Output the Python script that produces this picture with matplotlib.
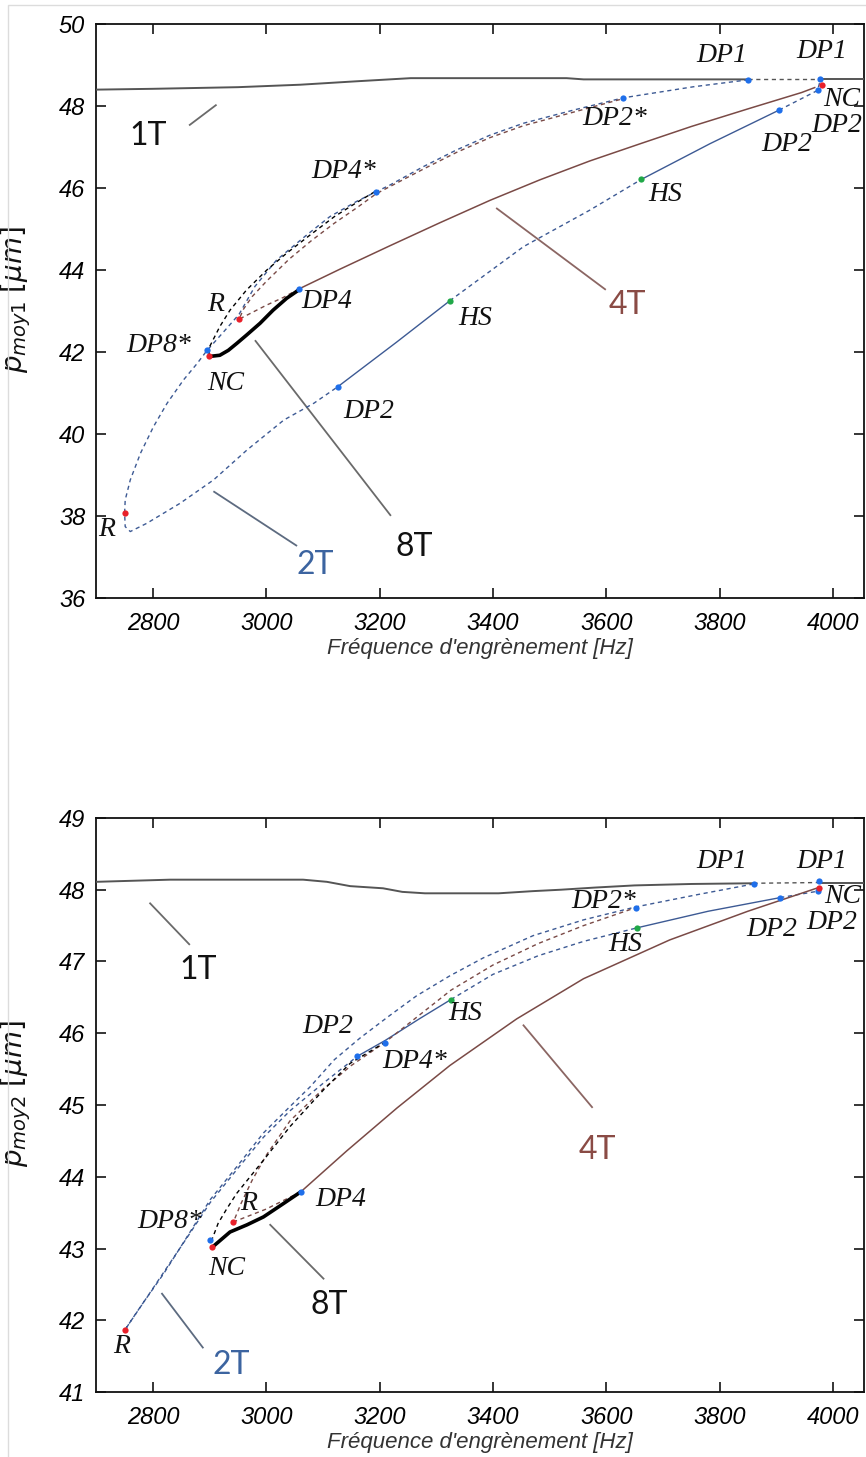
import matplotlib
matplotlib.use("Agg")
import matplotlib.pyplot as plt
from matplotlib.patches import Rectangle

# mathtext in the same narrow italic face as the tick labels
plt.rcParams.update({
    'mathtext.fontset': 'custom',
    'mathtext.it': 'Liberation Sans Narrow:italic',
    'mathtext.rm': 'Liberation Sans Narrow',
    'mathtext.fallback': 'cm',
})

# ---------------------------------------------------------------
# colours
# ---------------------------------------------------------------
C_1T = '#555555'
C_2T = '#3D5A94'
C_4T = '#7A4A46'
C_8T = '#000000'
C_BLUE = '#1F6FEA'
C_RED = '#E8202A'
C_GREEN = '#20A848'
C_LEAD = '#6A6A6A'

TICK_FONT = ['Liberation Sans Narrow', 'Liberation Sans', 'DejaVu Sans']
SERIF = ['Liberation Serif', 'DejaVu Serif']
LABEL_FONT = ['Lato', 'DejaVu Sans']

# ===============================================================
# Top panel : p_moy1
# ===============================================================
# 1T branch
t_f_1t_a = [2700, 2800, 2950, 3060, 3155, 3255, 3530, 3560, 3851]
t_p_1t_a = [48.40, 48.42, 48.46, 48.52, 48.60, 48.68, 48.68, 48.65, 48.65]
t_f_1t_u = [3851, 3978]
t_p_1t_u = [48.65, 48.65]
t_f_1t_b = [3978, 4055]
t_p_1t_b = [48.65, 48.65]

# 2T branch (unstable outer arc: DP1 -> R -> DP2)
t_f_2t_u1 = [3851, 3754, 3630, 3542, 3454, 3395, 3336, 3277, 3218, 3194, 3159,
             3112, 3071, 3018, 2980, 2952, 2924, 2895, 2878, 2854, 2825, 2801,
             2778, 2760, 2751, 2750, 2751, 2760, 2789, 2848, 2907, 2966, 3031,
             3084, 3126]
t_p_2t_u1 = [48.64, 48.47, 48.20, 47.90, 47.58, 47.29, 46.93, 46.52, 46.07, 45.91,
             45.67, 45.30, 44.85, 44.24, 43.60, 42.92, 42.48, 42.03, 41.72, 41.32,
             40.75, 40.18, 39.53, 38.88, 38.39, 38.07, 37.74, 37.62, 37.82, 38.31,
             38.88, 39.61, 40.34, 40.75, 41.15]
t_f_2t_s1 = [3126, 3230, 3324]
t_p_2t_s1 = [41.15, 42.24, 43.25]
t_f_2t_u2 = [3324, 3454, 3571, 3662]
t_p_2t_u2 = [43.25, 44.57, 45.46, 46.21]
t_f_2t_s2 = [3662, 3783, 3905]
t_p_2t_s2 = [46.21, 47.08, 47.90]
t_f_2t_u3 = [3905, 3973, 3978]
t_p_2t_u3 = [47.90, 48.38, 48.64]

# 4T branch
t_f_4t_s = [3058, 3130, 3218, 3306, 3395, 3483, 3571, 3660, 3750, 3850, 3945, 3968]
t_p_4t_s = [43.54, 44.02, 44.59, 45.15, 45.70, 46.20, 46.66, 47.08, 47.50, 47.93,
            48.33, 48.45]
t_f_4t_u = [3058, 3030, 3000, 2952, 2960, 2975, 3000, 3040, 3080, 3120, 3160,
            3194, 3277, 3336, 3395, 3454, 3542, 3630]
t_p_4t_u = [43.54, 43.33, 43.14, 42.80, 43.05, 43.35, 43.72, 44.26, 44.72, 45.14,
            45.52, 45.86, 46.46, 46.87, 47.23, 47.52, 47.85, 48.18]

# 8T branch
t_f_8t_s = [2899, 2918, 2933, 2948, 2965, 2989, 3012, 3036, 3058]
t_p_8t_s = [41.89, 41.92, 42.04, 42.21, 42.41, 42.70, 43.02, 43.31, 43.52]
t_f_8t_u = [2899, 2900, 2918, 2936, 2965, 3001, 3036, 3077, 3120, 3160, 3194]
t_p_8t_u = [41.95, 42.13, 42.62, 43.02, 43.51, 44.00, 44.41, 44.85, 45.30, 45.65,
            45.93]

# bifurcation points
t_blue_f = [3851, 3978, 3973, 3905, 3630, 3194, 3058, 2895, 3126]
t_blue_p = [48.64, 48.65, 48.40, 47.90, 48.20, 45.91, 43.54, 42.05, 41.15]
t_red_f = [3980, 2952, 2899, 2750]
t_red_p = [48.51, 42.80, 41.89, 38.07]
t_green_f = [3662, 3324]
t_green_p = [46.21, 43.25]

t_point_labels = ['DP1', 'DP1', 'NC', 'DP2', 'DP2', 'DP2*', 'HS', 'DP4*', 'R',
                  'DP4', 'DP8*', 'NC', 'DP2', 'HS', 'R']
t_point_lf = [3804, 3980, 4016, 4007, 3918, 3615, 3704, 3136, 2910, 3107, 2810,
              2928, 3181, 3369, 2719]
t_point_lp = [49.24, 49.32, 48.17, 47.52, 47.05, 47.70, 45.83, 46.40, 43.15, 43.23,
              42.17, 41.24, 40.54, 42.82, 37.66]

t_branch_labels = ['1T', '2T', '4T', '8T']
t_branch_lf = [2791, 3086, 3637, 3262]
t_branch_lp = [47.27, 36.80, 43.15, 37.24]
t_lead_f = [(2865, 2911), (2908, 3053), (3407, 3598), (2981, 3219)]
t_lead_p = [(47.54, 48.02), (38.59, 37.28), (45.50, 43.53), (42.27, 38.02)]

# ===============================================================
# Bottom panel : p_moy2
# ===============================================================
b_f_1t_a = [2700, 2830, 3065, 3107, 3148, 3206, 3240, 3280, 3410, 3470, 3520,
            3580, 3650, 3750, 3860]
b_p_1t_a = [48.11, 48.14, 48.14, 48.11, 48.05, 48.02, 47.97, 47.95, 47.95, 47.98,
            48.00, 48.03, 48.06, 48.08, 48.09]
b_f_1t_u = [3860, 3976]
b_p_1t_u = [48.09, 48.10]
b_f_1t_b = [3976, 4055]
b_p_1t_b = [48.10, 48.10]

b_f_2t_u1 = [3860, 3760, 3652, 3560, 3471, 3383, 3324, 3265, 3215, 3165, 3120,
             3077, 3042, 2995, 2948, 2901, 2860, 2819, 2778, 2750, 2780, 2820,
             2860, 2901, 2948, 2995, 3042, 3100, 3161]
b_p_2t_u1 = [48.08, 47.93, 47.76, 47.58, 47.36, 47.05, 46.80, 46.52, 46.23, 45.93,
             45.63, 45.25, 44.98, 44.61, 44.14, 43.68, 43.16, 42.65, 42.19, 41.86,
             42.21, 42.68, 43.15, 43.64, 44.10, 44.55, 44.92, 45.30, 45.68]
b_f_2t_s1 = [3161, 3210, 3270, 3326]
b_p_2t_s1 = [45.68, 45.90, 46.20, 46.47]
b_f_2t_u2 = [3326, 3400, 3480, 3560, 3655]
b_p_2t_u2 = [46.47, 46.82, 47.08, 47.28, 47.47]
b_f_2t_s2 = [3655, 3780, 3907]
b_p_2t_s2 = [47.47, 47.70, 47.89]
b_f_2t_u3 = [3907, 3974, 3976]
b_p_2t_u3 = [47.89, 47.98, 48.11]

b_f_4t_s = [3061, 3142, 3231, 3324, 3442, 3560, 3712, 3850, 3971]
b_p_4t_s = [43.79, 44.36, 44.96, 45.55, 46.20, 46.76, 47.30, 47.70, 48.02]
b_f_4t_u = [3061, 3000, 2942, 2955, 2975, 3000, 3042, 3100, 3150, 3209, 3265,
            3326, 3400, 3480, 3560, 3652]
b_p_4t_u = [43.79, 43.55, 43.37, 43.62, 43.95, 44.30, 44.78, 45.22, 45.55, 45.87,
            46.22, 46.60, 46.95, 47.25, 47.50, 47.75]

b_f_8t_s = [2905, 2936, 2966, 2995, 3031, 3061]
b_p_8t_s = [43.02, 43.23, 43.33, 43.44, 43.63, 43.79]
b_f_8t_u = [2903, 2915, 2930, 2948, 2995, 3042, 3101, 3148, 3209]
b_p_8t_u = [43.10, 43.35, 43.55, 43.77, 44.23, 44.70, 45.21, 45.58, 45.87]

b_blue_f = [3860, 3976, 3974, 3907, 3652, 3161, 3209, 3061, 2901]
b_blue_p = [48.08, 48.12, 47.98, 47.89, 47.75, 45.68, 45.87, 43.79, 43.12]
b_red_f = [3976, 2942, 2905, 2750]
b_red_p = [48.03, 43.37, 43.02, 41.86]
b_green_f = [3655, 3326]
b_green_p = [47.47, 46.47]

b_point_labels = ['DP1', 'DP1', 'NC', 'DP2', 'DP2', 'DP2*', 'HS', 'DP2', 'HS',
                  'DP4*', 'R', 'DP4', 'DP8*', 'NC', 'R']
b_point_lf = [3804, 3980, 4018, 3998, 3892, 3595, 3633, 3109, 3351, 3262, 2969,
              3131, 2830, 2931, 2744]
b_point_lp = [48.39, 48.39, 47.91, 47.55, 47.44, 47.83, 47.23, 46.09, 46.28, 45.60,
              43.63, 43.68, 43.37, 42.72, 41.63]

b_branch_labels = ['1T', '2T', '4T', '8T']
b_branch_lf = [2880, 2939, 3585, 3112]
b_branch_lp = [46.88, 41.37, 44.37, 42.21]
b_lead_f = [(2795, 2864), (2816, 2888), (3454, 3575), (3007, 3101)]
b_lead_p = [(47.81, 47.24), (42.37, 41.62), (46.11, 44.97), (43.33, 42.58)]

x_ticks = [2800, 3000, 3200, 3400, 3600, 3800, 4000]
t_y_ticks = [36, 38, 40, 42, 44, 46, 48, 50]
b_y_ticks = [41, 42, 43, 44, 45, 46, 47, 48, 49]

BRANCH_COLORS = ['#111111', '#3C64A0', '#8A4B45', '#111111']
LEAD_COLORS = [C_LEAD, '#5D6B80', '#8B6663', C_LEAD]

DASH = (0, (3.0, 2.6))


def draw_panel(ax, d, ylim, yticks, ylabel):
    dash_kw = dict(lw=1.0, linestyle=DASH)
    # 1T
    ax.plot(d['f_1t_a'], d['p_1t_a'], color=C_1T, lw=1.4, zorder=3)
    ax.plot(d['f_1t_u'], d['p_1t_u'], color=C_1T, **dash_kw, zorder=3)
    ax.plot(d['f_1t_b'], d['p_1t_b'], color=C_1T, lw=1.4, zorder=3)
    # 2T
    ax.plot(d['f_2t_u1'], d['p_2t_u1'], color=C_2T, **dash_kw, zorder=4)
    ax.plot(d['f_2t_s1'], d['p_2t_s1'], color=C_2T, lw=1.0, zorder=4)
    ax.plot(d['f_2t_u2'], d['p_2t_u2'], color=C_2T, **dash_kw, zorder=4)
    ax.plot(d['f_2t_s2'], d['p_2t_s2'], color=C_2T, lw=1.0, zorder=4)
    ax.plot(d['f_2t_u3'], d['p_2t_u3'], color=C_2T, **dash_kw, zorder=4)
    # 4T
    ax.plot(d['f_4t_s'], d['p_4t_s'], color=C_4T, lw=1.1, zorder=4)
    ax.plot(d['f_4t_u'], d['p_4t_u'], color=C_4T, **dash_kw, zorder=4)
    # 8T
    ax.plot(d['f_8t_u'], d['p_8t_u'], color=C_8T, **dash_kw, zorder=5)
    ax.plot(d['f_8t_s'], d['p_8t_s'], color=C_8T, lw=2.6, zorder=5,
            solid_capstyle='round')
    # bifurcation markers
    ax.plot(d['blue_f'], d['blue_p'], 'o', color=C_BLUE, ms=4.5, mec='none', zorder=6)
    ax.plot(d['red_f'], d['red_p'], 'o', color=C_RED, ms=4.5, mec='none', zorder=6)
    ax.plot(d['green_f'], d['green_p'], 'o', color=C_GREEN, ms=4.5, mec='none', zorder=6)

    for txt, x, y in zip(d['point_labels'], d['point_lf'], d['point_lp']):
        ax.text(x, y, txt, ha='center', va='center', fontsize=20, style='italic',
                family=SERIF, color='#111111', zorder=7, clip_on=False)

    for (fx, px), col in zip(zip(d['lead_f'], d['lead_p']), LEAD_COLORS):
        ax.plot(fx, px, color=col, lw=1.3, zorder=2)
    for txt, x, y, col in zip(d['branch_labels'], d['branch_lf'], d['branch_lp'],
                              BRANCH_COLORS):
        ax.text(x, y, txt, ha='center', va='center', fontsize=23, family=LABEL_FONT,
                color=col, zorder=7)

    ax.set_xlim(2700, 4055)
    ax.set_ylim(*ylim)
    ax.set_xticks(x_ticks)
    ax.set_yticks(yticks)
    ax.tick_params(axis='both', direction='in', top=True, right=True, length=7,
                   width=1.1, labelsize=17)
    ax.tick_params(axis='x', pad=10)
    ax.tick_params(axis='y', pad=8)
    for lab in ax.get_xticklabels() + ax.get_yticklabels():
        lab.set_family(TICK_FONT)
        lab.set_style('italic')
    for sp in ax.spines.values():
        sp.set_linewidth(1.3)
        sp.set_color('#111111')
    ax.set_xlabel("Fréquence d'engrènement [Hz]", fontsize=16, style='italic',
                  family=TICK_FONT, color='#333333')
    ax.xaxis.set_label_coords(0.5, -0.07)
    ax.set_ylabel(ylabel, fontsize=20, family=TICK_FONT, color='#111111')
    ax.yaxis.set_label_coords(-0.082, 0.52)


top = dict(f_1t_a=t_f_1t_a, p_1t_a=t_p_1t_a, f_1t_u=t_f_1t_u, p_1t_u=t_p_1t_u,
           f_1t_b=t_f_1t_b, p_1t_b=t_p_1t_b,
           f_2t_u1=t_f_2t_u1, p_2t_u1=t_p_2t_u1, f_2t_s1=t_f_2t_s1, p_2t_s1=t_p_2t_s1,
           f_2t_u2=t_f_2t_u2, p_2t_u2=t_p_2t_u2, f_2t_s2=t_f_2t_s2, p_2t_s2=t_p_2t_s2,
           f_2t_u3=t_f_2t_u3, p_2t_u3=t_p_2t_u3,
           f_4t_s=t_f_4t_s, p_4t_s=t_p_4t_s, f_4t_u=t_f_4t_u, p_4t_u=t_p_4t_u,
           f_8t_s=t_f_8t_s, p_8t_s=t_p_8t_s, f_8t_u=t_f_8t_u, p_8t_u=t_p_8t_u,
           blue_f=t_blue_f, blue_p=t_blue_p, red_f=t_red_f, red_p=t_red_p,
           green_f=t_green_f, green_p=t_green_p,
           point_labels=t_point_labels, point_lf=t_point_lf, point_lp=t_point_lp,
           branch_labels=t_branch_labels, branch_lf=t_branch_lf,
           branch_lp=t_branch_lp, lead_f=t_lead_f, lead_p=t_lead_p)

bottom = dict(f_1t_a=b_f_1t_a, p_1t_a=b_p_1t_a, f_1t_u=b_f_1t_u, p_1t_u=b_p_1t_u,
              f_1t_b=b_f_1t_b, p_1t_b=b_p_1t_b,
              f_2t_u1=b_f_2t_u1, p_2t_u1=b_p_2t_u1, f_2t_s1=b_f_2t_s1,
              p_2t_s1=b_p_2t_s1, f_2t_u2=b_f_2t_u2, p_2t_u2=b_p_2t_u2,
              f_2t_s2=b_f_2t_s2, p_2t_s2=b_p_2t_s2, f_2t_u3=b_f_2t_u3,
              p_2t_u3=b_p_2t_u3,
              f_4t_s=b_f_4t_s, p_4t_s=b_p_4t_s, f_4t_u=b_f_4t_u, p_4t_u=b_p_4t_u,
              f_8t_s=b_f_8t_s, p_8t_s=b_p_8t_s, f_8t_u=b_f_8t_u, p_8t_u=b_p_8t_u,
              blue_f=b_blue_f, blue_p=b_blue_p, red_f=b_red_f, red_p=b_red_p,
              green_f=b_green_f, green_p=b_green_p,
              point_labels=b_point_labels, point_lf=b_point_lf,
              point_lp=b_point_lp, branch_labels=b_branch_labels,
              branch_lf=b_branch_lf, branch_lp=b_branch_lp,
              lead_f=b_lead_f, lead_p=b_lead_p)

fig = plt.figure(figsize=(8.66, 14.57), dpi=100)
fig.patches.append(Rectangle((0.009, -0.01), 1.2, 1.0066, transform=fig.transFigure,
                             fill=False, edgecolor='#DCDCDC', lw=1.0))

ax1 = fig.add_axes([0.1112, 0.5896, 0.8865, 0.3939])
draw_panel(ax1, top, (36, 50), t_y_ticks, r'$p_{moy1}$ $[\mu m]$')

ax2 = fig.add_axes([0.1112, 0.0446, 0.8865, 0.3940])
draw_panel(ax2, bottom, (41, 49), b_y_ticks, r'$p_{moy2}$ $[\mu m]$')

fig.savefig('out.png', dpi=100, facecolor='white')
